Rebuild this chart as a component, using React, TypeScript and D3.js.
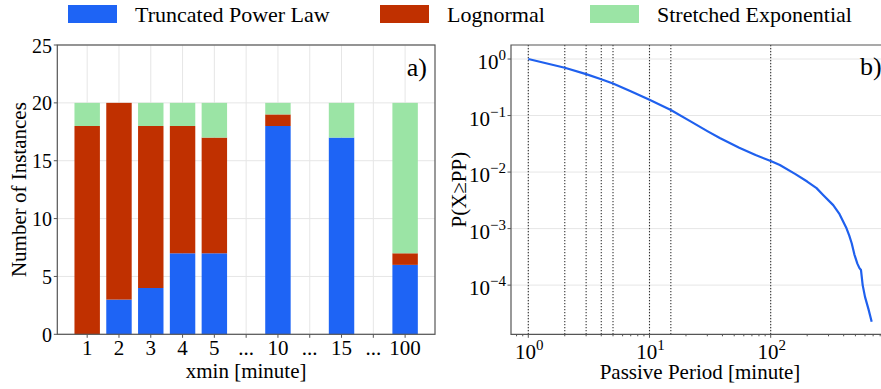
import React, { useEffect, useRef } from "react";
import * as d3 from "d3";

// left panel: fitted distribution counts per xmin
const categories = ["1", "2", "3", "4", "5", "...", "10", "...", "15", "...", "100"];
const truncatedPowerLaw = [0, 3, 4, 7, 7, 0, 18, 0, 17, 0, 6];
const lognormal = [18, 17, 14, 11, 10, 0, 1, 0, 0, 0, 1];
const stretchedExponential = [2, 0, 2, 2, 3, 0, 1, 0, 3, 0, 13];
const countTicks = [0, 5, 10, 15, 20, 25];

// right panel: CCDF of passive period
const passivePeriod = [1, 2, 3, 4, 5, 7, 10, 15, 22, 30, 38, 55, 75, 100, 119, 160, 200, 239, 272, 328, 370, 423, 445, 466, 490, 519, 540, 556, 574, 600, 640, 681];
const ccdf = [1, 0.7, 0.54, 0.44, 0.37, 0.27, 0.19, 0.125, 0.078, 0.053, 0.04, 0.027, 0.02, 0.0157, 0.0133, 0.0092, 0.0068, 0.0052, 0.0039, 0.0026, 0.0018, 0.001, 0.00075, 0.00055, 0.00035, 0.00024, 0.0002, 0.000185, 0.0001, 0.000062, 0.000038, 0.0000224];
const xminMarkers = [1, 2, 3, 4, 5, 10, 15, 100];
const decadeExpX = [0, 1, 2];
const decadeExpY = [0, -1, -2, -3, -4];

const seriesNames = ["Truncated Power Law", "Lognormal", "Stretched Exponential"];
const colors = ["#1e64f5", "#c03000", "#9be4a5"];

const FONT = "'Liberation Serif', 'Times New Roman', serif";
const SPINE = "#555";
const GRID = "#e6e6e6";

export default function App() {
  const ref = useRef<SVGSVGElement | null>(null);

  useEffect(() => {
    const svg = d3.select(ref.current);
    svg.selectAll("*").remove();

    // ---------- legend ----------
    const legendX = [68, 380, 590];
    const legend = svg.append("g");
    seriesNames.forEach((name, i) => {
      legend.append("rect")
        .attr("x", legendX[i]).attr("y", 5)
        .attr("width", 49).attr("height", 18)
        .attr("fill", colors[i]);
      legend.append("text")
        .attr("x", legendX[i] + 67).attr("y", 22)
        .attr("font-family", FONT).attr("font-size", 22)
        .text(name);
    });

    // ---------- panel a ----------
    const left = 57.3, right = 435, top = 45, bottom = 334.3;
    const x = d3.scaleLinear().domain([-0.94, 10.94]).range([left, right]);
    const y = d3.scaleLinear().domain([0, 25]).range([bottom, top]);
    const a = svg.append("g");

    a.selectAll("line.vgrid").data(categories).enter().append("line")
      .attr("x1", (d, i) => x(i)).attr("x2", (d, i) => x(i))
      .attr("y1", top).attr("y2", bottom)
      .attr("stroke", GRID);
    a.selectAll("line.hgrid").data(countTicks).enter().append("line")
      .attr("x1", left).attr("x2", right)
      .attr("y1", (d) => y(d)).attr("y2", (d) => y(d))
      .attr("stroke", GRID);

    const stacked = d3.stack<number>()
      .keys(["0", "1", "2"])
      .value((i, k) => [truncatedPowerLaw, lognormal, stretchedExponential][+k][i])(
        d3.range(categories.length)
      );

    stacked.forEach((layer, s) => {
      a.append("g").selectAll("rect").data(layer).enter().append("rect")
        .attr("x", (d, i) => x(i - 0.4))
        .attr("width", x(0.4) - x(-0.4))
        .attr("y", (d) => y(d[1]))
        .attr("height", (d) => y(d[0]) - y(d[1]))
        .attr("fill", colors[s]);
    });

    a.append("rect")
      .attr("x", left).attr("y", top)
      .attr("width", right - left).attr("height", bottom - top)
      .attr("fill", "none").attr("stroke", SPINE).attr("stroke-width", 1.2);

    a.selectAll("line.xt").data(categories).enter().append("line")
      .attr("x1", (d, i) => x(i)).attr("x2", (d, i) => x(i))
      .attr("y1", bottom).attr("y2", bottom + 3.5)
      .attr("stroke", SPINE);
    a.selectAll("text.xt").data(categories).enter().append("text")
      .attr("x", (d, i) => x(i)).attr("y", 355)
      .attr("text-anchor", "middle")
      .attr("font-family", FONT).attr("font-size", 21)
      .text((d) => d);

    a.selectAll("line.yt").data(countTicks).enter().append("line")
      .attr("x1", left - 3.5).attr("x2", left)
      .attr("y1", (d) => y(d)).attr("y2", (d) => y(d))
      .attr("stroke", SPINE);
    a.selectAll("text.yt").data(countTicks).enter().append("text")
      .attr("x", 52).attr("y", (d) => y(d) + 7.5)
      .attr("text-anchor", "end")
      .attr("font-family", FONT).attr("font-size", 20)
      .text((d) => d);

    a.append("text")
      .attr("x", (left + right) / 2).attr("y", 377.5)
      .attr("text-anchor", "middle")
      .attr("font-family", FONT).attr("font-size", 21)
      .text("xmin [minute]");
    a.append("text")
      .attr("transform", `translate(26,${(top + bottom) / 2}) rotate(-90)`)
      .attr("text-anchor", "middle")
      .attr("font-family", FONT).attr("font-size", 21)
      .text("Number of Instances");
    a.append("text")
      .attr("x", 427).attr("y", 76)
      .attr("text-anchor", "end")
      .attr("font-family", FONT).attr("font-size", 26)
      .text("a)");

    // ---------- panel b ----------
    const bl = 511, br = 889.5, decade = 121.2;
    const bx = d3.scaleLog().domain([Math.pow(10, -0.1427), Math.pow(10, -0.1427 + (br - bl) / decade)]).range([bl, br]);
    const by = d3.scaleLog().domain([Math.pow(10, 0.248), Math.pow(10, -4.87)]).range([top, bottom]);
    const b = svg.append("g");

    b.selectAll("line.hg").data(decadeExpY).enter().append("line")
      .attr("x1", bl).attr("x2", br)
      .attr("y1", (d) => by(Math.pow(10, d))).attr("y2", (d) => by(Math.pow(10, d)))
      .attr("stroke", GRID);
    b.selectAll("line.vg").data(decadeExpX).enter().append("line")
      .attr("x1", (d) => bx(Math.pow(10, d))).attr("x2", (d) => bx(Math.pow(10, d)))
      .attr("y1", top).attr("y2", bottom)
      .attr("stroke", GRID);

    b.selectAll("line.mark").data(xminMarkers).enter().append("line")
      .attr("x1", (d) => bx(d)).attr("x2", (d) => bx(d))
      .attr("y1", top).attr("y2", bottom)
      .attr("stroke", "#333").attr("stroke-width", 1.1)
      .attr("stroke-dasharray", "1.2,1.8");

    const line = d3.line<number>()
      .x((d, i) => bx(passivePeriod[i]))
      .y((d) => by(d));
    b.append("path")
      .datum(ccdf)
      .attr("d", line)
      .attr("fill", "none")
      .attr("stroke", "#1f60ee")
      .attr("stroke-width", 2.2)
      .attr("stroke-linejoin", "round");

    b.append("path")
      .attr("d", `M${br},${top}H${bl}V${bottom}H${br}`)
      .attr("fill", "none").attr("stroke", SPINE).attr("stroke-width", 1.2);

    // minor x ticks
    const minor: number[] = [];
    for (let e = -1; e <= 2; e++) for (let k = 2; k <= 9; k++) minor.push(k * Math.pow(10, e));
    b.selectAll("line.mx").data(minor.filter((v) => bx(v) > bl && bx(v) < br)).enter().append("line")
      .attr("x1", (d) => bx(d)).attr("x2", (d) => bx(d))
      .attr("y1", bottom).attr("y2", bottom + 2)
      .attr("stroke", SPINE);
    b.selectAll("line.xt").data(decadeExpX).enter().append("line")
      .attr("x1", (d) => bx(Math.pow(10, d))).attr("x2", (d) => bx(Math.pow(10, d)))
      .attr("y1", bottom).attr("y2", bottom + 3.5)
      .attr("stroke", SPINE);
    const xl = b.selectAll("text.xt").data(decadeExpX).enter().append("text")
      .attr("x", (d) => bx(Math.pow(10, d)) + 1).attr("y", 359)
      .attr("text-anchor", "middle")
      .attr("font-family", FONT).attr("font-size", 21);
    xl.append("tspan").text("10");
    xl.append("tspan").attr("dy", -9).attr("font-size", 15).text((d) => `${d}`);

    b.selectAll("line.yt").data(decadeExpY).enter().append("line")
      .attr("x1", bl - 3.5).attr("x2", bl)
      .attr("y1", (d) => by(Math.pow(10, d))).attr("y2", (d) => by(Math.pow(10, d)))
      .attr("stroke", SPINE);
    const yl = b.selectAll("text.yt").data(decadeExpY).enter().append("text")
      .attr("x", 506).attr("y", (d) => by(Math.pow(10, d)) + 10)
      .attr("text-anchor", "end")
      .attr("font-family", FONT).attr("font-size", 21);
    yl.append("tspan").text("10");
    yl.append("tspan").attr("dy", -9).attr("font-size", 15)
      .text((d) => (d < 0 ? `\u2212${-d}` : `${d}`));

    b.append("text")
      .attr("x", 700).attr("y", 378.5)
      .attr("text-anchor", "middle")
      .attr("font-family", FONT).attr("font-size", 21)
      .text("Passive Period [minute]");
    b.append("text")
      .attr("transform", `translate(466,${(top + bottom) / 2}) rotate(-90)`)
      .attr("text-anchor", "middle")
      .attr("font-family", FONT).attr("font-size", 21)
      .text("P(X\u2265PP)");
    b.append("text")
      .attr("x", 860).attr("y", 75)
      .attr("font-family", FONT).attr("font-size", 26)
      .text("b)");
  }, []);

  return (
    <svg
      ref={ref}
      width={881}
      height={389}
      style={{ position: "absolute", left: 0, top: 0, background: "#fff" }}
    ></svg>
  );
}
